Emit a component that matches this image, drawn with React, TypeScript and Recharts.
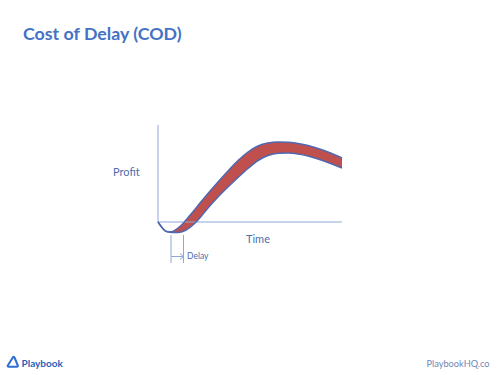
import React from "react";
import {
  ComposedChart,
  Area,
  Line,
  XAxis,
  YAxis,
  ReferenceLine,
} from "recharts";

// Time positions (arbitrary units) and profit values
const timePoints = [0, 4, 8, 12, 16, 20, 24, 28, 32, 36, 40, 50, 60, 70, 80, 90, 100, 110, 120, 130, 140, 150, 160, 170, 184];
const profitOnTime = [0, -5.5, -9.3, -10, -8.8, -6, -2.5, 2, 6.8, 11.5, 16.5, 28.5, 40, 51, 61.5, 70, 76, 79, 80, 79.8, 78.5, 76.5, 73.5, 70, 64];
const profitDelayed = [0, -5.5, -9.3, -10.3, -10.6, -10.5, -9.8, -8, -5.3, -2, 2, 14, 25, 35, 44.5, 53.5, 61.5, 66.5, 68.8, 69, 68, 66, 63, 59.5, 54];

const delayStart = 13;
const delayEnd = 25.5;

const data = timePoints.map((t, i) => ({
  t,
  upper: profitOnTime[i],
  lower: profitDelayed[i],
  band: [profitDelayed[i], profitOnTime[i]],
}));

const BLUE_LINE = "#4f68b0";
const RED = "#c0504d";
const AXIS = "#8fa8d6";
const TEXT = "#4a6fae";
const FONT = "Lato, 'Open Sans', sans-serif";

export default function App() {
  return (
    <div
      style={{
        position: "absolute",
        left: 0,
        top: 0,
        width: 500,
        height: 375,
        background: "#ffffff",
        fontFamily: FONT,
      }}
    >
      <ComposedChart
        width={500}
        height={375}
        data={data}
        margin={{ top: 122, right: 157, bottom: 108, left: 158 }}
      >
        <XAxis type="number" dataKey="t" domain={[0, 185]} hide />
        <YAxis type="number" domain={[-45, 100]} hide />
        <ReferenceLine
          segment={[
            { x: 0, y: 0 },
            { x: 0, y: 97 },
          ]}
          stroke={AXIS}
          strokeWidth={1}
        />
        <ReferenceLine
          segment={[
            { x: 0, y: 0 },
            { x: 184, y: 0 },
          ]}
          stroke={AXIS}
          strokeWidth={1}
        />
        <Area
          dataKey="band"
          type="monotone"
          fill={RED}
          fillOpacity={1}
          stroke="none"
          isAnimationActive={false}
        />
        <Line
          dataKey="upper"
          type="monotone"
          stroke={BLUE_LINE}
          strokeWidth={1.5}
          dot={false}
          isAnimationActive={false}
        />
        <Line
          dataKey="lower"
          type="monotone"
          stroke={BLUE_LINE}
          strokeWidth={1.5}
          dot={false}
          isAnimationActive={false}
        />
        <ReferenceLine
          segment={[
            { x: delayStart, y: -13 },
            { x: delayStart, y: -41 },
          ]}
          stroke={AXIS}
          strokeWidth={1}
        />
        <ReferenceLine
          segment={[
            { x: delayEnd, y: -13 },
            { x: delayEnd, y: -41 },
          ]}
          stroke={AXIS}
          strokeWidth={1}
        />
        <ReferenceLine
          segment={[
            { x: delayStart, y: -34.5 },
            { x: delayEnd, y: -34.5 },
          ]}
          stroke={AXIS}
          strokeWidth={1}
        />
        <ReferenceLine
          segment={[
            { x: delayEnd - 3.5, y: -31.5 },
            { x: delayEnd, y: -34.5 },
          ]}
          stroke={AXIS}
          strokeWidth={1}
        />
        <ReferenceLine
          segment={[
            { x: delayEnd - 3.5, y: -37.5 },
            { x: delayEnd, y: -34.5 },
          ]}
          stroke={AXIS}
          strokeWidth={1}
        />
      </ComposedChart>
      <svg
        width={500}
        height={375}
        style={{ position: "absolute", left: 0, top: 0, pointerEvents: "none" }}
      >
        <text x={23} y={39.5} fill="#4472c4" fontSize={17.8} fontWeight={700} fontFamily={FONT}>
          Cost of Delay (COD)
        </text>
        <text x={113} y={175.7} fill={TEXT} fontSize={11} fontFamily={FONT}>
          Profit
        </text>
        <text x={246} y={243.3} fill={TEXT} fontSize={11} fontFamily={FONT}>
          Time
        </text>
        <text x={187} y={259} fill={TEXT} fontSize={8.5} fontFamily={FONT}>
          Delay
        </text>
        <path
          d="M12.8 357.5 L7.8 365.5 Q7.3 366.8 8.8 366.8 L16.8 366.8 Q18.3 366.8 17.8 365.5 L14.5 357.5 Q13.6 356.2 12.8 357.5 Z"
          fill="none"
          stroke="#2f6fd0"
          strokeWidth={2}
          strokeLinejoin="round"
        />
        <text x={21.5} y={366.7} fill="#2a5fb8" fontSize={10} fontWeight={700} fontFamily={FONT}>
          Playbook
        </text>
        <text x={489.5} y={366.5} fill="#6f88b8" fontSize={9.2} textAnchor="end" fontFamily={FONT}>
          PlaybookHQ.co
        </text>
      </svg>
    </div>
  );
}
